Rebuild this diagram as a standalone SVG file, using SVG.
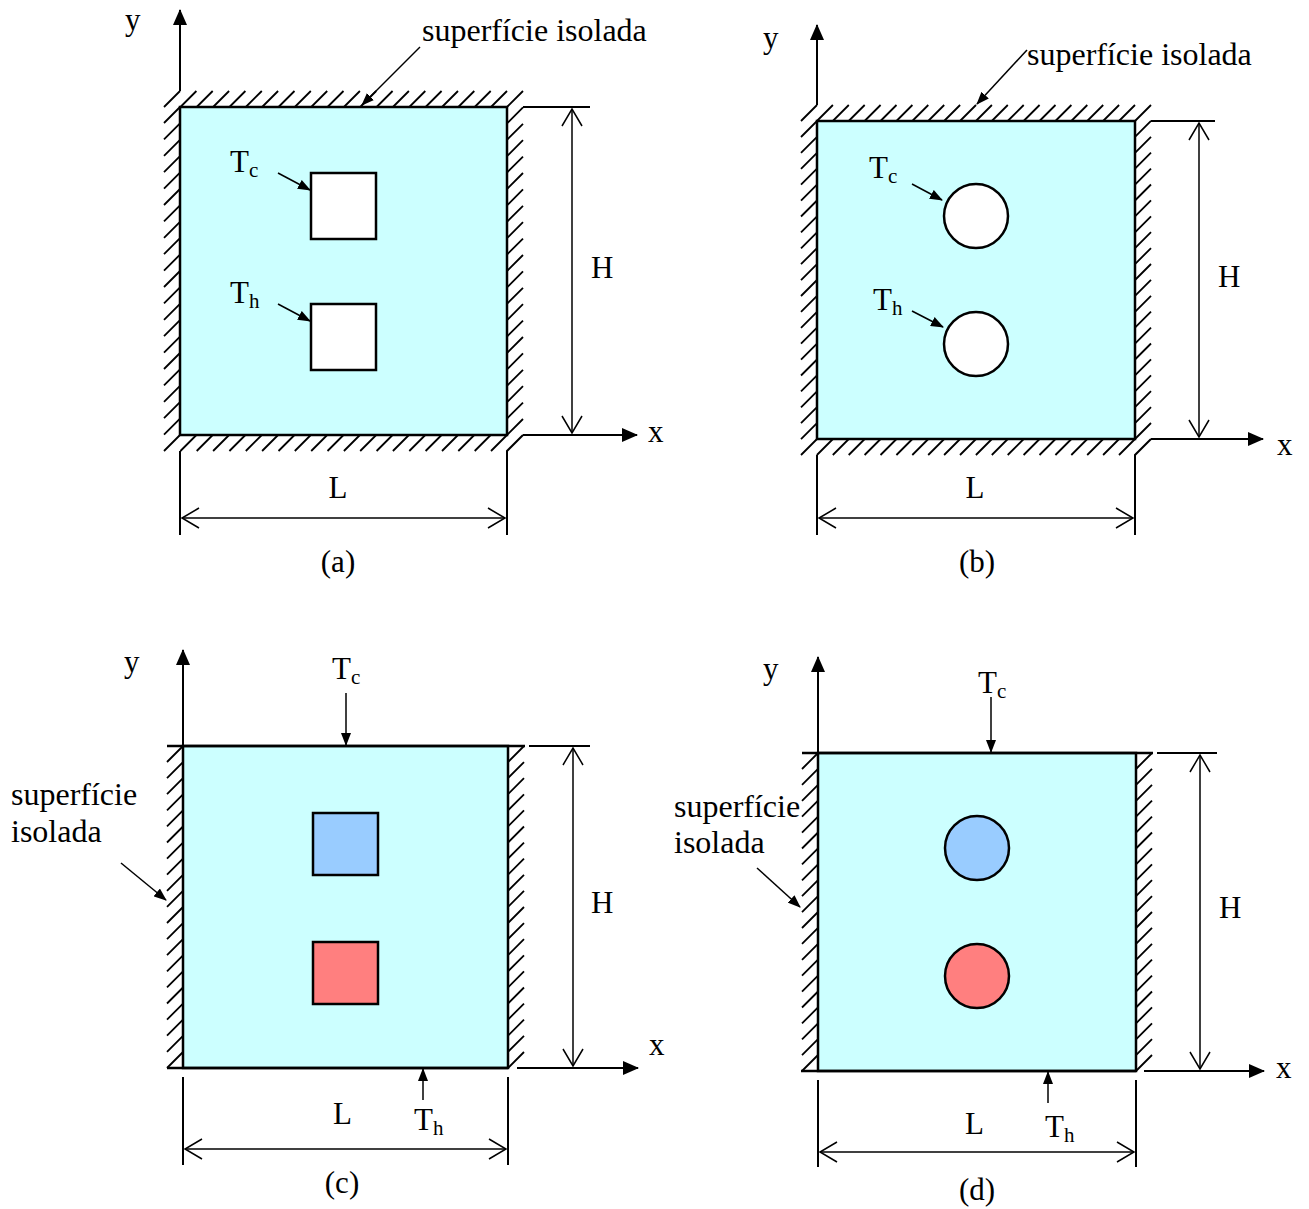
<svg xmlns="http://www.w3.org/2000/svg" width="1309" height="1209" viewBox="0 0 1309 1209">
<style>
text{font-family:"Liberation Serif","Times New Roman",serif;font-size:31px;fill:#000}
.lbl{font-size:32px}
.sub{font-size:21px}
.mid{text-anchor:middle}
.dom{fill:#CCFFFF;stroke:#000;stroke-width:2.5}
.hole{fill:#fff;stroke:#000;stroke-width:2.5}
.cold{fill:#99CCFF;stroke:#000;stroke-width:2.5}
.hot{fill:#FF7F7F;stroke:#000;stroke-width:2.5}
.hatch{fill:none;stroke:#000;stroke-width:1.8}
.wall{fill:none;stroke:#000;stroke-width:2.5}
.axis{fill:none;stroke:#000;stroke-width:2;marker-end:url(#ax)}
.dim{fill:none;stroke:#000;stroke-width:1.5;marker-start:url(#dm);marker-end:url(#dm)}
.ext{fill:none;stroke:#000;stroke-width:2}
.lead{fill:none;stroke:#000;stroke-width:1.5;marker-end:url(#ld)}
</style>
<defs>
<marker id="ax" markerUnits="userSpaceOnUse" markerWidth="16" markerHeight="14" viewBox="0 0 16 14" refX="15" refY="7" orient="auto"><path d="M0 0L16 7L0 14z" fill="#000"/></marker>
<marker id="ld" markerUnits="userSpaceOnUse" markerWidth="13" markerHeight="10" viewBox="0 0 13 10" refX="12" refY="5" orient="auto"><path d="M0 0L13 5L0 10z" fill="#000"/></marker>
<marker id="dm" markerUnits="userSpaceOnUse" markerWidth="20" markerHeight="22" viewBox="-1 -1 20 22" refX="17" refY="10" orient="auto-start-reverse" overflow="visible"><path d="M0 0L17 10L0 20" fill="none" stroke="#000" stroke-width="1.5"/></marker>
</defs>

<!-- Panel (a) -->
<g id="panel-a">
  <g id="a-domain">
    <rect class="dom" x="180" y="107" width="327" height="328"/>
    <path class="hatch" d="M164 107l16-16M180.4 107l16-16M196.7 107l16-16M213.1 107l16-16M229.4 107l16-16M245.8 107l16-16M262.1 107l16-16M278.5 107l16-16M294.8 107l16-16M311.2 107l16-16M327.5 107l16-16M343.9 107l16-16M360.2 107l16-16M376.6 107l16-16M392.9 107l16-16M409.3 107l16-16M425.6 107l16-16M442 107l16-16M458.3 107l16-16M474.7 107l16-16M491 107l16-16"/>
    <path class="hatch" d="M507 107l16-16M507 123.4l16-16M507 139.8l16-16M507 156.2l16-16M507 172.6l16-16M507 189l16-16M507 205.4l16-16M507 221.8l16-16M507 238.2l16-16M507 254.6l16-16M507 271l16-16M507 287.4l16-16M507 303.8l16-16M507 320.2l16-16M507 336.6l16-16M507 353l16-16M507 369.4l16-16M507 385.8l16-16M507 402.2l16-16M507 418.6l16-16M507 435l16-16"/>
    <path class="hatch" d="M164 123l16-16M164 139.4l16-16M164 155.8l16-16M164 172.2l16-16M164 188.6l16-16M164 205l16-16M164 221.4l16-16M164 237.8l16-16M164 254.2l16-16M164 270.6l16-16M164 287l16-16M164 303.4l16-16M164 319.8l16-16M164 336.2l16-16M164 352.6l16-16M164 369l16-16M164 385.4l16-16M164 401.8l16-16M164 418.2l16-16M164 434.6l16-16"/>
    <path class="hatch" d="M164 451l16-16M180.4 451l16-16M196.7 451l16-16M213.1 451l16-16M229.4 451l16-16M245.8 451l16-16M262.1 451l16-16M278.5 451l16-16M294.8 451l16-16M311.2 451l16-16M327.5 451l16-16M343.9 451l16-16M360.2 451l16-16M376.6 451l16-16M392.9 451l16-16M409.3 451l16-16M425.6 451l16-16M442 451l16-16M458.3 451l16-16M474.7 451l16-16M491 451l16-16"/>
  </g>
  <rect id="a-cold" class="hole" x="311" y="173" width="65" height="66"/>
  <rect id="a-hot" class="hole" x="311" y="304" width="65" height="66"/>
  <g id="a-labels">
    <text x="125" y="30">y</text>
    <text x="648" y="442">x</text>
    <text x="591" y="278">H</text>
    <text class="mid" x="338" y="498">L</text>
    <text class="lbl" x="422" y="41">superfície isolada</text>
    <text x="230" y="172">T<tspan class="sub" dy="5">c</tspan></text>
    <text x="230" y="303">T<tspan class="sub" dy="5">h</tspan></text>
    <text class="mid" x="338" y="572">(a)</text>
  </g>
</g>

<!-- Panel (b) -->
<g id="panel-b">
  <g id="b-domain">
    <rect class="dom" x="817" y="121" width="318" height="318"/>
    <path class="hatch" d="M801 121l16-16M816.9 121l16-16M832.8 121l16-16M848.7 121l16-16M864.6 121l16-16M880.5 121l16-16M896.4 121l16-16M912.3 121l16-16M928.2 121l16-16M944.1 121l16-16M960 121l16-16M975.9 121l16-16M991.8 121l16-16M1007.7 121l16-16M1023.6 121l16-16M1039.5 121l16-16M1055.4 121l16-16M1071.3 121l16-16M1087.2 121l16-16M1103.1 121l16-16M1119 121l16-16"/>
    <path class="hatch" d="M1135 121l16-16M1135 136.9l16-16M1135 152.8l16-16M1135 168.7l16-16M1135 184.6l16-16M1135 200.5l16-16M1135 216.4l16-16M1135 232.3l16-16M1135 248.2l16-16M1135 264.1l16-16M1135 280l16-16M1135 295.9l16-16M1135 311.8l16-16M1135 327.7l16-16M1135 343.6l16-16M1135 359.5l16-16M1135 375.4l16-16M1135 391.3l16-16M1135 407.2l16-16M1135 423.1l16-16M1135 439l16-16"/>
    <path class="hatch" d="M801 137l16-16M801 152.9l16-16M801 168.8l16-16M801 184.7l16-16M801 200.6l16-16M801 216.5l16-16M801 232.4l16-16M801 248.3l16-16M801 264.2l16-16M801 280.1l16-16M801 296l16-16M801 311.9l16-16M801 327.8l16-16M801 343.7l16-16M801 359.6l16-16M801 375.5l16-16M801 391.4l16-16M801 407.3l16-16M801 423.2l16-16M801 439.1l16-16"/>
    <path class="hatch" d="M801 455l16-16M816.9 455l16-16M832.8 455l16-16M848.7 455l16-16M864.6 455l16-16M880.5 455l16-16M896.4 455l16-16M912.3 455l16-16M928.2 455l16-16M944.1 455l16-16M960 455l16-16M975.9 455l16-16M991.8 455l16-16M1007.7 455l16-16M1023.6 455l16-16M1039.5 455l16-16M1055.4 455l16-16M1071.3 455l16-16M1087.2 455l16-16M1103.1 455l16-16M1119 455l16-16"/>
  </g>
  <circle id="b-cold" class="hole" cx="976" cy="216" r="32"/>
  <circle id="b-hot" class="hole" cx="976" cy="344" r="32"/>
  <g id="b-labels">
    <text x="763" y="48">y</text>
    <text x="1277" y="455">x</text>
    <text x="1218" y="287">H</text>
    <text class="mid" x="975" y="498">L</text>
    <text class="lbl" x="1027" y="65">superfície isolada</text>
    <text x="869" y="178">T<tspan class="sub" dy="5">c</tspan></text>
    <text x="873" y="310">T<tspan class="sub" dy="5">h</tspan></text>
    <text class="mid" x="977" y="572">(b)</text>
  </g>
</g>

<!-- Panel (c) -->
<g id="panel-c">
  <g id="c-domain">
    <rect class="dom" x="183" y="746" width="325" height="322"/>
    <path class="wall" d="M167 746H525M167 1068H508"/>
    <path class="hatch" d="M167 762l16-16M167 778.1l16-16M167 794.2l16-16M167 810.3l16-16M167 826.4l16-16M167 842.5l16-16M167 858.6l16-16M167 874.7l16-16M167 890.8l16-16M167 906.9l16-16M167 923l16-16M167 939.1l16-16M167 955.2l16-16M167 971.3l16-16M167 987.4l16-16M167 1003.5l16-16M167 1019.6l16-16M167 1035.7l16-16M167 1051.8l16-16M167 1068l16-16"/>
    <path class="hatch" d="M508 762l16-16M508 778.1l16-16M508 794.2l16-16M508 810.3l16-16M508 826.4l16-16M508 842.5l16-16M508 858.6l16-16M508 874.7l16-16M508 890.8l16-16M508 906.9l16-16M508 923l16-16M508 939.1l16-16M508 955.2l16-16M508 971.3l16-16M508 987.4l16-16M508 1003.5l16-16M508 1019.6l16-16M508 1035.7l16-16M508 1051.8l16-16M508 1068l16-16"/>
  </g>
  <rect id="c-cold" class="cold" x="313" y="813" width="65" height="62"/>
  <rect id="c-hot" class="hot" x="313" y="942" width="65" height="62"/>
  <g id="c-labels">
    <text x="124" y="672">y</text>
    <text x="649" y="1055">x</text>
    <text x="591" y="913">H</text>
    <text x="333" y="1124">L</text>
    <text class="lbl" x="11" y="805">superfície</text>
    <text class="lbl" x="11" y="842">isolada</text>
    <text x="332" y="679">T<tspan class="sub" dy="5">c</tspan></text>
    <text x="414" y="1130">T<tspan class="sub" dy="5">h</tspan></text>
    <text class="mid" x="342" y="1193">(c)</text>
  </g>
</g>

<!-- Panel (d) -->
<g id="panel-d">
  <g id="d-domain">
    <rect class="dom" x="818" y="753" width="318" height="318"/>
    <path class="wall" d="M802 753H1153M801 1071H1136"/>
    <path class="hatch" d="M802 769l16-16M802 784.9l16-16M802 800.8l16-16M802 816.7l16-16M802 832.6l16-16M802 848.5l16-16M802 864.4l16-16M802 880.3l16-16M802 896.2l16-16M802 912.1l16-16M802 928l16-16M802 943.9l16-16M802 959.8l16-16M802 975.7l16-16M802 991.6l16-16M802 1007.5l16-16M802 1023.4l16-16M802 1039.3l16-16M802 1055.2l16-16M802 1071l16-16"/>
    <path class="hatch" d="M1136 769l16-16M1136 784.9l16-16M1136 800.8l16-16M1136 816.7l16-16M1136 832.6l16-16M1136 848.5l16-16M1136 864.4l16-16M1136 880.3l16-16M1136 896.2l16-16M1136 912.1l16-16M1136 928l16-16M1136 943.9l16-16M1136 959.8l16-16M1136 975.7l16-16M1136 991.6l16-16M1136 1007.5l16-16M1136 1023.4l16-16M1136 1039.3l16-16M1136 1055.2l16-16M1136 1071l16-16"/>
  </g>
  <circle id="d-cold" class="cold" cx="977" cy="848" r="32"/>
  <circle id="d-hot" class="hot" cx="977" cy="976" r="32"/>
  <g id="d-labels">
    <text x="763" y="679">y</text>
    <text x="1276" y="1078">x</text>
    <text x="1219" y="918">H</text>
    <text x="965" y="1134">L</text>
    <text class="lbl" x="674" y="817">superfície</text>
    <text class="lbl" x="674" y="853">isolada</text>
    <text x="978" y="693">T<tspan class="sub" dy="5">c</tspan></text>
    <text x="1045" y="1137">T<tspan class="sub" dy="5">h</tspan></text>
    <text class="mid" x="977" y="1200">(d)</text>
  </g>
</g>

<!-- Connectors: axes, dimensions, leaders -->
<g id="connectors">
  <!-- (a) -->
  <path class="axis" d="M180 91V10"/>
  <path class="axis" d="M523 435H637"/>
  <path class="ext" d="M180 451V535M523 435L507 451V535M523 107H590"/>
  <path class="dim" d="M572 109V433"/>
  <path class="dim" d="M182 518H505"/>
  <path class="lead" d="M420 47L362 105"/>
  <path class="lead" d="M278 173L310 190"/>
  <path class="lead" d="M278 304L310 321"/>
  <!-- (b) -->
  <path class="axis" d="M817 105V25"/>
  <path class="axis" d="M1151 439H1263"/>
  <path class="ext" d="M817 455V535M1151 439L1135 455V535M1151 121H1215"/>
  <path class="dim" d="M1199 123V437"/>
  <path class="dim" d="M819 518H1133"/>
  <path class="lead" d="M1027 50L977 104"/>
  <path class="lead" d="M912 184L942 200"/>
  <path class="lead" d="M912 311L943 327"/>
  <!-- (c) -->
  <path class="axis" d="M183 745V650"/>
  <path class="axis" d="M517 1068H638"/>
  <path class="ext" d="M183 1077V1165M508 1077V1165M529 746H590"/>
  <path class="dim" d="M573 748V1066"/>
  <path class="dim" d="M185 1149H506"/>
  <path class="lead" d="M121 863L166 900"/>
  <path class="lead" d="M346 693V745"/>
  <path class="lead" d="M423 1100V1069"/>
  <!-- (d) -->
  <path class="axis" d="M818 752V657"/>
  <path class="axis" d="M1144 1071H1264"/>
  <path class="ext" d="M818 1080V1167M1136 1080V1167M1157 753H1217"/>
  <path class="dim" d="M1200 755V1069"/>
  <path class="dim" d="M820 1152H1134"/>
  <path class="lead" d="M757 868L800 907"/>
  <path class="lead" d="M991 697V752"/>
  <path class="lead" d="M1048 1103V1072"/>
</g>
</svg>
